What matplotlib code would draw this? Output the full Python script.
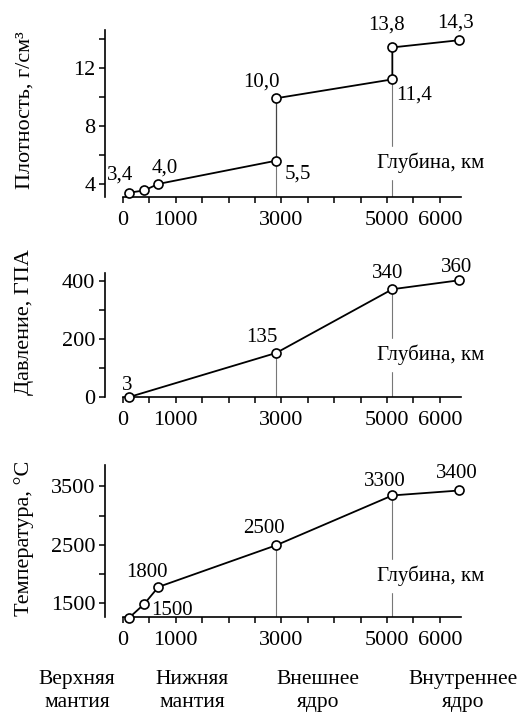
import numpy as np
import matplotlib
matplotlib.use('Agg')
import matplotlib.pyplot as plt

plt.rcParams['font.family'] = ['Liberation Serif', 'DejaVu Serif']
plt.rcParams['font.size'] = 15

# depth of the points, km
depth = [120, 400, 670, 2900, 2900, 5100, 5100, 6371]
density = [3.4, 3.55, 4.0, 5.6, 9.9, 11.2, 13.4, 13.9]
density_labels = ['3,4', '', '4,0', '5,5', '10,0', '11,4', '13,8', '14,3']

p_depth = [120, 2900, 5100, 6371]
pressure = [0, 152, 372, 403]
pressure_labels = ['3', '135', '340', '360']

t_depth = [120, 400, 670, 2900, 5100, 6371]
temperature = [1250, 1480, 1775, 2490, 3345, 3430]
temperature_labels = ['', '1500', '1800', '2500', '3300', '3400']

xtick_vals = [0, 1000, 2000, 3000, 4000, 5000, 6000]
xtick_labels = ['0', '1000', '', '3000', '', '5000', '6000']
layers = ['Верхняя\nмантия', 'Нижняя\nмантия', 'Внешнее\nядро', 'Внутреннее\nядро']

# label offsets in pixels (dx, dy)
dens_off = [(-9, 18), None, (6, 16), (22, -13), (-15, 16), (22, -16), (-6, 22), (-4, 17)]
pres_off = [(-2, 12), (-14, 15), (-5, 16), (-3, 13)]
temp_off = [None, (28, -6), (-11, 14), (-12, 17), (-8, 14), (-3, 17)]

W, H = 517, 713
fig = plt.figure(figsize=(W / 100, H / 100), dpi=100)


def make_ax(top, bottom):
    left, right = 105, 461
    ax = fig.add_axes([left / W, 1 - bottom / H, (right - left) / W, (bottom - top) / H])
    ax.set_xlim(-340, 6400)
    for s in ['top', 'right']:
        ax.spines[s].set_visible(False)
    ax.spines['bottom'].set_bounds(0, 6400)
    ax.spines['left'].set_linewidth(1.2)
    ax.spines['bottom'].set_linewidth(1.2)
    ax.set_xticks(xtick_vals)
    ax.set_xticklabels(xtick_labels)
    ax.set_xticks(np.arange(500, 6400, 1000), minor=True)
    ax.tick_params(which='both', direction='out', length=4, width=1.1, labelsize=16)
    ax.tick_params(axis='x', pad=6)
    ax.tick_params(axis='y', pad=3)
    ax.text(0.764, 0.0, 'Глубина, км', transform=ax.transAxes, ha='left', va='center',
            backgroundcolor='white', clip_on=False, zorder=2)
    return ax


def draw(ax, xs, ys, labels, offs, vx):
    for x in vx:
        i = xs.index(x)
        ax.plot([x, x], [ax.get_ylim()[0], ys[i]], color='#777777', lw=0.8, zorder=1)
    # thin segment where the value jumps at one depth (outer core boundary)
    pieces = []
    start = 0
    for i in range(1, len(xs)):
        if xs[i] == xs[i - 1] and xs[i] == 2900:
            pieces.append((start, i))
            ax.plot(xs[i - 1:i + 1], ys[i - 1:i + 1], color='#444444', lw=0.9, zorder=3)
            start = i
    pieces.append((start, len(xs)))
    for a, b in pieces:
        ax.plot(xs[a:b], ys[a:b], color='black', lw=1.3, marker='o', ms=6.5, mfc='white',
                mec='black', mew=1.2, zorder=4, clip_on=False)
    for x, y, lab, off in zip(xs, ys, labels, offs):
        if lab and off:
            ax.annotate(lab, (x, y), xytext=off, textcoords='offset pixels',
                        ha='center', va='center', zorder=5)


# density
ax1 = make_ax(30, 197)
ax1.set_ylim(3.1, 14.6)
ax1.set_yticks([4, 8, 12])
ax1.set_yticks([6, 10, 14], minor=True)
ax1.texts[0].set_y(0.204)
draw(ax1, depth, density, density_labels, dens_off, [2900, 5100])

# pressure
ax2 = make_ax(273, 397)
ax2.set_ylim(0, 428)
ax2.set_yticks([0, 200, 400])
ax2.set_yticks([100, 300], minor=True)
ax2.texts[0].set_y(0.339)
draw(ax2, p_depth, pressure, pressure_labels, pres_off, [2900, 5100])

# temperature
ax3 = make_ax(465, 617)
ax3.set_ylim(1260, 3867)
ax3.set_yticks([1500, 2500, 3500])
ax3.set_yticks([2000, 3000], minor=True)
ax3.texts[0].set_y(0.272)
draw(ax3, t_depth, temperature, temperature_labels, temp_off, [2900, 5100])

fig.text(25 / W, 1 - 110 / H, 'Плотность, г/см³', rotation=90, ha='center', va='center', fontsize=16)
fig.text(25 / W, 1 - 322 / H, 'Давление, ГПА', rotation=90, ha='center', va='center', fontsize=16)
fig.text(24 / W, 1 - 538 / H, 'Температура, °С', rotation=90, ha='center', va='center', fontsize=16)

for xc, lab in zip([77, 192, 318, 463], layers):
    fig.text(xc / W, 1 - 691 / H, lab, ha='center', va='center', linespacing=1.3, fontsize=15.5)

fig.savefig('out.png', dpi=100)
